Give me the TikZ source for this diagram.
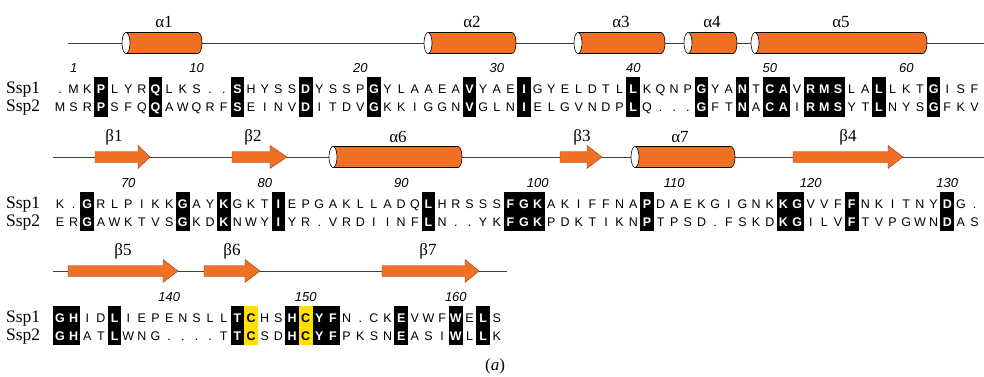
\documentclass[tikz,border=0pt]{standalone}
\usepackage{fontspec}
\setmainfont{Liberation Serif}
\setsansfont{Liberation Sans}
\definecolor{ssorange}{RGB}{240,112,36}
\definecolor{cysyellow}{RGB}{255,224,0}
\tikzset{
  res/.style={inner sep=0pt, anchor=base, font=\fontsize{12.5}{14}\selectfont\sffamily},
  resid/.style={res, text=white, font=\fontsize{12.5}{14}\selectfont\sffamily\bfseries},
  rescys/.style={res, text=black, font=\fontsize{12.5}{14}\selectfont\sffamily\bfseries},
  seqname/.style={inner sep=0pt, anchor=base west, font=\fontsize{17.5}{20}\selectfont},
  resnum/.style={inner sep=0pt, anchor=base, font=\fontsize{13}{15}\selectfont\sffamily\itshape},
  sslabel/.style={inner sep=0pt, font=\fontsize{17}{19}\selectfont},
  backbone/.style={line width=0.9pt, draw=black!75},
  helixbody/.style={fill=ssorange, draw=black, line width=0.6pt},
  helixcap/.style={fill=white, draw=black, line width=0.6pt},
  strandbody/.style={fill=ssorange, draw=ssorange!60!black, line width=0.4pt},
}
\newcommand\drawhelix[3]{%
  \filldraw[helixbody] (#1,#3-10.5) -- (#2-4,#3-10.5) arc[start angle=-90, end angle=90, x radius=4, y radius=10.5] -- (#1,#3+10.5) -- cycle;
  \filldraw[helixcap] (#1,#3) ellipse[x radius=4, y radius=10.5];
}
\newcommand\drawstrand[4]{%
  \filldraw[strandbody] (#1,#4-5.5) -- (#2,#4-5.5) -- (#2,#4-11.5) -- (#3,#4) -- (#2,#4+11.5) -- (#2,#4+5.5) -- (#1,#4+5.5) -- cycle;
}
\newcommand\alnrow[4]{%
  \foreach \a/\b/\t [count=\i] in {#4} {
    \pgfmathsetmacro\xx{60+(\i-1)*13.65}
    \if\t b
      \fill[black] (\xx-6.83,#2-16.5) rectangle (\xx+6.83,#3+5);
      \node[resid] (#1a\i) at (\xx,#2) {\a};
      \node[resid] (#1b\i) at (\xx,#3) {\b};
    \else\if\t y
      \fill[cysyellow] (\xx-6.83,#2-16.5) rectangle (\xx+6.83,#3+5);
      \node[rescys] (#1a\i) at (\xx,#2) {\a};
      \node[rescys] (#1b\i) at (\xx,#3) {\b};
    \else
      \node[res] (#1a\i) at (\xx,#2) {\a};
      \node[res] (#1b\i) at (\xx,#3) {\b};
    \fi\fi
  }
}
\begin{document}
\begin{tikzpicture}[x=1pt,y=-1pt]
\useasboundingbox[fill=white] (0,0) rectangle (984,377);

% ---------- block 1 ----------
\draw[backbone] (68,43) -- (984,43);
\drawhelix{126}{202}{43}
\drawhelix{428}{516}{43}
\drawhelix{578}{665}{43}
\drawhelix{688}{737}{43}
\drawhelix{755}{927}{43}
\node[sslabel] (a1) at (164,22) {α1};
\node[sslabel] (a2) at (472,22) {α2};
\node[sslabel] (a3) at (621,22) {α3};
\node[sslabel] (a4) at (712,22) {α4};
\node[sslabel] (a5) at (841,22) {α5};
\foreach \c/\n in {2/1,11/10,23/20,33/30,43/40,53/50,63/60}
  \node[resnum] (num\n) at ({60+(\c-1)*13.65},72.5) {\n};
\node[seqname] (n1a) at (6,94) {Ssp1};
\node[seqname] (n1b) at (6,112) {Ssp2};
\alnrow{r1}{94}{112}{./M/n, M/S/n, K/R/n, P/P/b, L/S/n, Y/F/n, R/Q/n, Q/Q/b, L/A/n, K/W/n, S/Q/n, ./R/n, ./F/n, S/S/b, H/E/n, Y/I/n, S/N/n, S/V/n, D/D/b, Y/I/n, S/T/n, S/D/n, P/V/n, G/G/b, Y/K/n, L/K/n, A/I/n, A/G/n, E/G/n, A/N/n, V/V/b, Y/G/n, A/L/n, E/N/n, I/I/b, G/E/n, Y/L/n, E/G/n, L/V/n, D/N/n, T/D/n, L/P/n, L/L/b, K/Q/n, Q/./n, N/./n, P/./n, G/G/b, Y/F/n, A/T/n, N/N/b, T/A/n, C/C/b, A/A/b, V/I/n, R/R/b, M/M/b, S/S/b, L/Y/n, A/T/n, L/L/b, L/N/n, K/Y/n, T/S/n, G/G/b, I/F/n, S/K/n, F/V/n}

% ---------- block 2 ----------
\draw[backbone] (53,157) -- (984,157);
\drawstrand{95}{138}{150}{157}
\drawstrand{232}{270}{287}{157}
\drawhelix{333}{462}{157}
\drawstrand{560}{587}{602}{157}
\drawhelix{635}{735}{157}
\drawstrand{793}{888}{903}{157}
\node[sslabel] (b1) at (114,137) {β1};
\node[sslabel] (b2) at (253,137) {β2};
\node[sslabel] (a6) at (398,137) {α6};
\node[sslabel] (b3) at (582,137) {β3};
\node[sslabel] (a7) at (680,137) {α7};
\node[sslabel] (b4) at (848,137) {β4};
\foreach \c/\n in {6/70,16/80,26/90,36/100,46/110,56/120,66/130}
  \node[resnum] (num\n) at ({60+(\c-1)*13.65},187) {\n};
\node[seqname] (n2a) at (6,208) {Ssp1};
\node[seqname] (n2b) at (6,226) {Ssp2};
\alnrow{r2}{208}{226}{K/E/n, ./R/n, G/G/b, R/A/n, L/W/n, P/K/n, I/T/n, K/V/n, K/S/n, G/G/b, A/K/n, Y/D/n, K/K/b, G/N/n, K/W/n, T/Y/n, I/I/b, E/Y/n, P/R/n, G/./n, A/V/n, K/R/n, L/D/n, L/I/n, A/I/n, D/N/n, Q/F/n, L/L/b, H/N/n, R/./n, S/./n, S/Y/n, S/K/n, F/F/b, G/G/b, K/K/b, A/P/n, K/D/n, I/K/n, F/T/n, F/I/n, N/K/n, A/N/n, P/P/b, D/T/n, A/P/n, E/S/n, K/D/n, G/./n, I/F/n, G/S/n, N/K/n, K/D/n, K/K/b, G/G/b, V/I/n, V/L/n, F/V/n, F/F/b, N/T/n, K/V/n, I/P/n, T/G/n, N/W/n, Y/N/n, D/D/b, G/A/n, ./S/n}

% ---------- block 3 ----------
\draw[backbone] (53,271) -- (507,271);
\drawstrand{68}{163}{178}{271}
\drawstrand{204}{245}{260}{271}
\drawstrand{382}{465}{479}{271}
\node[sslabel] (b5) at (123,251) {β5};
\node[sslabel] (b6) at (232,251) {β6};
\node[sslabel] (b7) at (428,251) {β7};
\foreach \c/\n in {9/140,19/150,30/160}
  \node[resnum] (num\n) at ({60+(\c-1)*13.65},301.5) {\n};
\node[seqname] (n3a) at (6,322) {Ssp1};
\node[seqname] (n3b) at (6,340) {Ssp2};
\alnrow{r3}{322}{340}{G/G/b, H/H/b, I/A/n, D/T/n, L/L/b, I/W/n, E/N/n, P/G/n, E/./n, N/./n, S/./n, L/./n, L/T/n, T/T/b, C/C/y, H/S/n, S/D/n, H/H/b, C/C/y, Y/Y/b, F/F/b, N/P/n, ./K/n, C/S/n, K/N/n, E/E/b, V/A/n, W/S/n, F/I/n, W/W/b, E/L/n, L/L/b, S/K/n}

\node[sslabel] (cap) at (495,366) {(\textit{a})};
\end{tikzpicture}
\end{document}
